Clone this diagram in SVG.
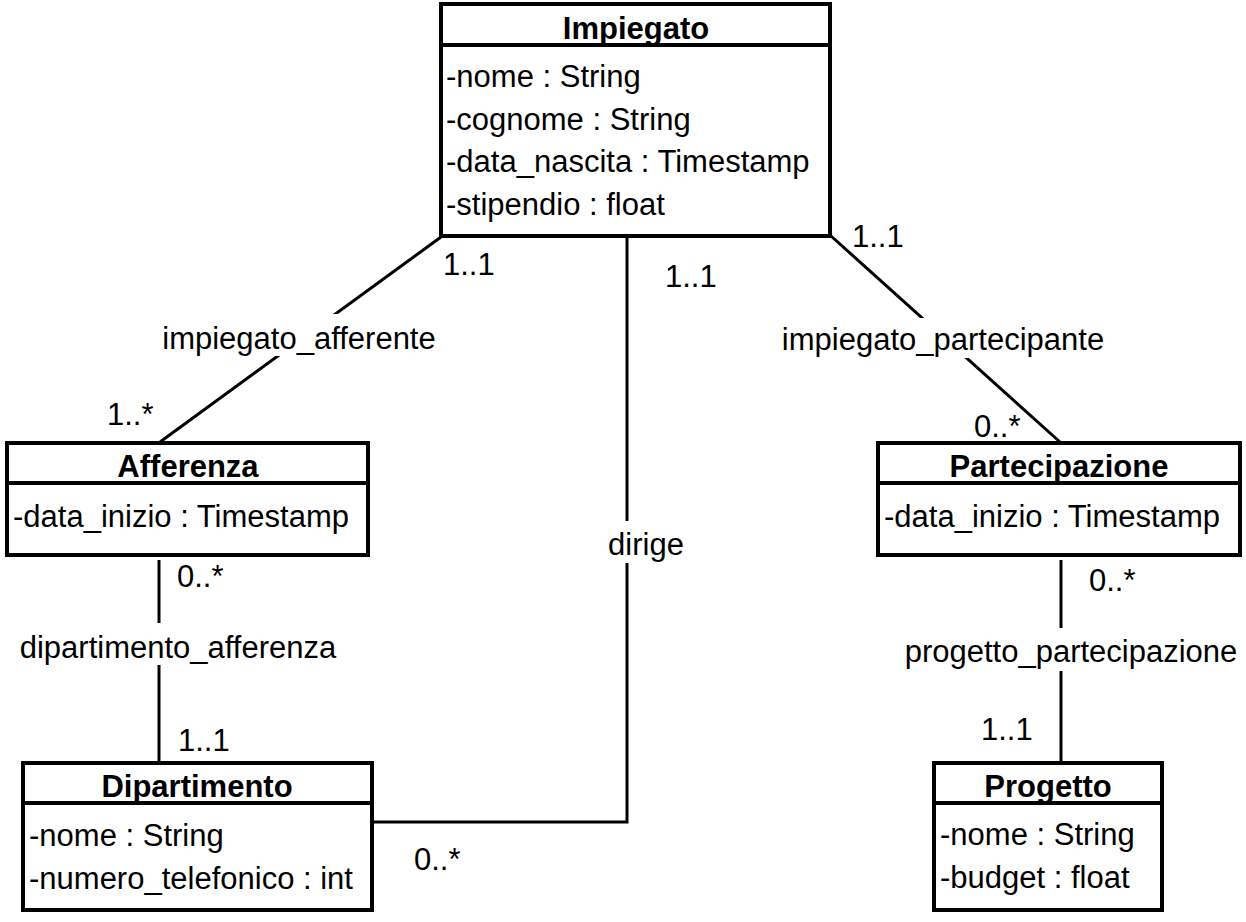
<svg xmlns="http://www.w3.org/2000/svg" width="1246" height="922" viewBox="0 0 1246 922">
<style>
.box{fill:#fff;stroke:#000;stroke-width:4}
.sep{stroke:#000;stroke-width:4}
.t{font-family:"Liberation Sans",Arial,sans-serif;font-size:31px;fill:#000}
.h{font-family:"Liberation Sans",Arial,sans-serif;font-size:31px;font-weight:bold;fill:#000;text-anchor:middle}
.ln{fill:none;stroke:#000;stroke-width:3}
.bg{fill:#fff}
.lbl{font-family:"Liberation Sans",Arial,sans-serif;font-size:31px;fill:#000;text-anchor:middle}
</style>
<rect width="1246" height="922" fill="#fff"/>
<g id="connectors">
<line class="ln" x1="441" y1="237" x2="160" y2="442"/>
<polyline class="ln" points="627,237 627,822 372,822"/>
<line class="ln" x1="831" y1="236" x2="1060" y2="442"/>
<line class="ln" x1="159" y1="560" x2="159" y2="762"/>
<line class="ln" x1="1061" y1="560" x2="1061" y2="762"/>
<rect class="bg" x="162" y="314" width="274" height="42"/>
<text class="lbl" x="299" y="349">impiegato_afferente</text>
<rect class="bg" x="608" y="521" width="76" height="42"/>
<text class="lbl" x="646" y="555">dirige</text>
<rect class="bg" x="781" y="318" width="323" height="40"/>
<text class="lbl" x="943" y="350">impiegato_partecipante</text>
<rect class="bg" x="20" y="623" width="316" height="42"/>
<text class="lbl" x="178" y="658">dipartimento_afferenza</text>
<rect class="bg" x="904" y="628" width="334" height="43"/>
<text class="lbl" x="1071" y="662">progetto_partecipazione</text>
<text class="t" x="443" y="275">1..1</text>
<text class="t" x="107" y="425">1..*</text>
<text class="t" x="665" y="287">1..1</text>
<text class="t" x="852" y="247">1..1</text>
<text class="t" x="974" y="437">0..*</text>
<text class="t" x="177" y="587">0..*</text>
<text class="t" x="178" y="751">1..1</text>
<text class="t" x="414" y="870">0..*</text>
<text class="t" x="1089" y="591">0..*</text>
<text class="t" x="981" y="740">1..1</text>
</g>
<g id="impiegato">
<rect class="box" x="441" y="4" width="389" height="232"/>
<line class="sep" x1="441" y1="45" x2="830" y2="45"/>
<text class="h" x="636" y="39">Impiegato</text>
<text class="t" x="446" y="87">-nome : String</text>
<text class="t" x="446" y="130">-cognome : String</text>
<text class="t" x="446" y="172">-data_nascita : Timestamp</text>
<text class="t" x="446" y="215">-stipendio : float</text>
</g>
<g id="afferenza">
<rect class="box" x="7" y="443" width="361" height="112"/>
<line class="sep" x1="7" y1="483" x2="368" y2="483"/>
<text class="h" x="188" y="477">Afferenza</text>
<text class="t" x="13" y="527">-data_inizio : Timestamp</text>
</g>
<g id="partecipazione">
<rect class="box" x="878" y="443" width="362" height="112"/>
<line class="sep" x1="878" y1="483" x2="1240" y2="483"/>
<text class="h" x="1059" y="477">Partecipazione</text>
<text class="t" x="884" y="527">-data_inizio : Timestamp</text>
</g>
<g id="dipartimento">
<rect class="box" x="23" y="763" width="349" height="147"/>
<line class="sep" x1="23" y1="803" x2="372" y2="803"/>
<text class="h" x="197" y="797">Dipartimento</text>
<text class="t" x="29" y="846">-nome : String</text>
<text class="t" x="29" y="889">-numero_telefonico : int</text>
</g>
<g id="progetto">
<rect class="box" x="934" y="763" width="228" height="147"/>
<line class="sep" x1="934" y1="803" x2="1162" y2="803"/>
<text class="h" x="1048" y="797">Progetto</text>
<text class="t" x="940" y="845">-nome : String</text>
<text class="t" x="940" y="888">-budget : float</text>
</g>
</svg>
